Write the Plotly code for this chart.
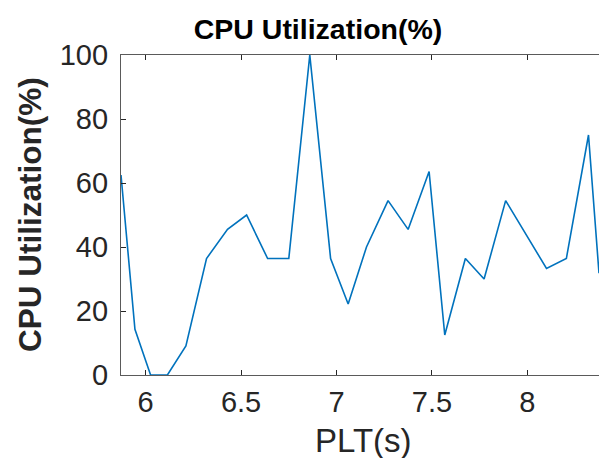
import plotly.graph_objects as go

# Page load time (s) and CPU utilization (%) samples
plt_s = [5.871, 5.944, 6.026, 6.114, 6.211, 6.319, 6.429, 6.529, 6.639, 6.750,
         6.860, 6.969, 7.061, 7.157, 7.270, 7.375, 7.485, 7.567, 7.675, 7.773,
         7.886, 8.100, 8.204, 8.320, 8.375]
cpu_util = [62.5, 14.3, 0.0, 0.0, 9.1, 36.4, 45.5, 50.0, 36.4, 36.4,
            100.0, 36.4, 22.2, 40.0, 54.5, 45.5, 63.6, 12.5, 36.4, 30.0,
            54.5, 33.3, 36.4, 75.0, 31.8]

x_ticks = [6, 6.5, 7, 7.5, 8]
x_tick_text = ["6", "6.5", "7", "7.5", "8"]
y_ticks = [0, 20, 40, 60, 80, 100]

W, H = 599, 458
ML, MR, MT, MB = 121, 0, 55, 83
FONT = "Liberation Sans, Arial, Helvetica, sans-serif"
AX = "#262626"

fig = go.Figure(go.Scatter(
    x=plt_s, y=cpu_util, mode="lines",
    line=dict(color="#0072BD", width=1.6),
    hoverinfo="skip", showlegend=False,
))

fig.update_layout(
    width=W, height=H,
    margin=dict(l=ML, r=MR, t=MT, b=MB, pad=0),
    paper_bgcolor="white", plot_bgcolor="white",
    font=dict(family=FONT, color=AX),
    title=dict(text="<b>CPU Utilization(%)</b>", font=dict(size=28.5, color="#000000", family=FONT),
               x=318 / W, xref="container", xanchor="center",
               y=1 - 29 / H, yref="container", yanchor="middle"),
)

fig.update_xaxes(
    range=[plt_s[0], plt_s[-1]],
    tickvals=x_ticks, ticktext=x_tick_text,
    ticks="inside", ticklen=5, tickwidth=1, tickcolor=AX,
    showline=True, linecolor="#5a5a5a", linewidth=1.2, mirror="ticks",
    showgrid=False, zeroline=False,
    tickfont=dict(size=29, color=AX, family=FONT),
    ticklabelstandoff=1,
)
fig.update_yaxes(
    range=[0, 100],
    tickvals=y_ticks,
    ticks="inside", ticklen=5, tickwidth=1, tickcolor=AX,
    showline=True, linecolor="#5a5a5a", linewidth=1.2, mirror=False,
    showgrid=False, zeroline=False,
    tickfont=dict(size=29, color=AX, family=FONT),
    ticklabelstandoff=6,
)

# Axis labels
fig.add_annotation(text="PLT(s)", xref="paper", yref="paper",
                   x=(363 - ML) / (W - ML - MR), y=-(440 - (H - MB)) / (H - MT - MB),
                   xanchor="center", yanchor="middle", showarrow=False,
                   font=dict(size=33, color=AX, family=FONT))
fig.add_annotation(text="<b>CPU Utilization(%)</b>", xref="paper", yref="paper",
                   x=-(ML - 30) / (W - ML - MR), y=0.5, textangle=-90,
                   xanchor="center", yanchor="middle", showarrow=False,
                   font=dict(size=31.5, color=AX, family=FONT))

fig.write_html("out.html")
